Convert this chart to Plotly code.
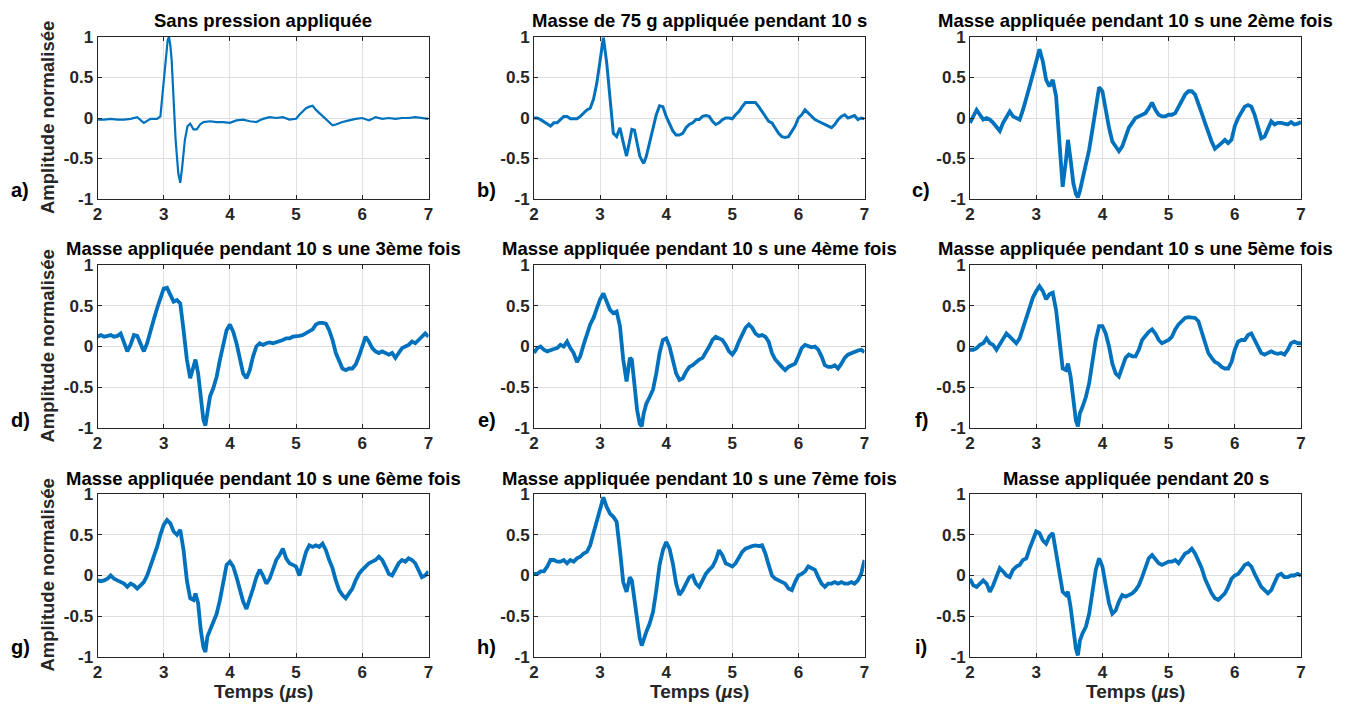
import plotly.graph_objects as go

# time grid (µs) shared by panels b-i, finer around the sharp dip
t = [2.00, 2.05, 2.10, 2.15, 2.20, 2.25, 2.30, 2.35, 2.40, 2.45,
     2.50, 2.55, 2.60, 2.65, 2.70, 2.75, 2.80, 2.85, 2.90, 2.95,
     3.00, 3.05, 3.10, 3.15, 3.20, 3.25, 3.30, 3.35, 3.40, 3.45,
     3.48, 3.52, 3.56, 3.60, 3.63, 3.66,
     3.70, 3.75, 3.80, 3.85, 3.90, 3.95, 4.00, 4.05, 4.10, 4.15,
     4.20, 4.25, 4.30, 4.35, 4.40, 4.45, 4.50, 4.55, 4.60, 4.65,
     4.70, 4.75, 4.80, 4.85, 4.90, 4.95, 5.00, 5.05, 5.10, 5.15,
     5.20, 5.25, 5.30, 5.35, 5.40, 5.45, 5.50, 5.55, 5.60, 5.65,
     5.70, 5.75, 5.80, 5.85, 5.90, 5.95, 6.00, 6.05, 6.10, 6.15,
     6.20, 6.25, 6.30, 6.35, 6.40, 6.45, 6.50, 6.55, 6.60, 6.65,
     6.70, 6.75, 6.80, 6.85, 6.90, 6.95, 7.00]

# panel a has its own grid (clean, sharp pulse)
t_a = [2.0, 2.1, 2.2, 2.3, 2.4, 2.5, 2.6, 2.7, 2.8, 2.9,
       2.95, 3.0, 3.03, 3.06, 3.08, 3.1, 3.12, 3.15, 3.18, 3.22,
       3.25, 3.28, 3.32, 3.36, 3.4, 3.45, 3.5, 3.55, 3.6, 3.7,
       3.8, 3.9, 4.0, 4.1, 4.2, 4.3, 4.4, 4.5, 4.6, 4.7,
       4.8, 4.9, 5.0, 5.05, 5.1, 5.15, 5.2, 5.25, 5.3, 5.4,
       5.5, 5.55, 5.6, 5.7, 5.8, 5.9, 6.0, 6.1, 6.2, 6.3,
       6.4, 6.5, 6.6, 6.7, 6.8, 6.9, 7.0]
sig_a = [-0.02, -0.02, -0.01, -0.02, -0.02, -0.01, 0.01, -0.06, -0.01, -0.01,
         0.02, 0.43, 0.75, 0.96, 1.0, 0.9, 0.72, 0.23, -0.27, -0.68,
         -0.80, -0.60, -0.27, -0.10, -0.07, -0.14, -0.14, -0.08, -0.05, -0.04,
         -0.05, -0.05, -0.06, -0.03, -0.02, -0.04, -0.05, -0.01, 0.01, 0.0,
         0.01, -0.02, -0.01, 0.04, 0.08, 0.12, 0.14, 0.15, 0.10, 0.02,
         -0.06, -0.09, -0.08, -0.05, -0.03, -0.01, 0.0, -0.03, 0.01, -0.01,
         0.0, -0.01, 0.0, 0.0, 0.01, 0.0, -0.01]

sig_b = [0.00, 0.00, -0.02, -0.05, -0.08, -0.10, -0.06, -0.06, -0.02, 0.02,
         0.02, -0.01, -0.01, -0.01, 0.02, 0.06, 0.10, 0.12, 0.23, 0.43,
         0.72, 0.99, 0.68, 0.19, -0.19, -0.23, -0.12, -0.30, -0.47, -0.27,
         -0.14, -0.15, -0.33, -0.47, -0.52, -0.56,
         -0.47, -0.31, -0.14, 0.04, 0.15, 0.14, 0.02, -0.08, -0.16, -0.21,
         -0.21, -0.19, -0.12, -0.08, -0.06, -0.02, -0.02, 0.02, 0.03, 0.02,
         -0.04, -0.08, -0.06, -0.02, 0.00, 0.00, -0.01, 0.04, 0.08, 0.14,
         0.19, 0.19, 0.19, 0.19, 0.14, 0.08, 0.02, -0.04, -0.06, -0.12,
         -0.19, -0.23, -0.24, -0.23, -0.16, -0.10, 0.00, 0.04, 0.10, 0.06,
         0.02, -0.02, -0.04, -0.06, -0.07, -0.10, -0.12, -0.08, -0.02, 0.02,
         0.04, 0.00, 0.02, 0.03, -0.02, 0.00, -0.01]

sig_c = [-0.06, 0.02, 0.10, 0.04, -0.02, 0.00, -0.02, -0.06, -0.12, -0.16,
         -0.06, 0.02, 0.08, 0.02, 0.00, -0.02, 0.10, 0.27, 0.39, 0.54,
         0.72, 0.85, 0.70, 0.47, 0.39, 0.47, 0.27, -0.27, -0.85, -0.52,
         -0.27, -0.52, -0.80, -0.94, -0.98, -0.90,
         -0.76, -0.60, -0.39, -0.14, 0.14, 0.38, 0.33, 0.10, -0.12, -0.29,
         -0.35, -0.41, -0.35, -0.23, -0.12, -0.06, 0.00, 0.02, 0.04, 0.06,
         0.12, 0.19, 0.10, 0.04, 0.02, 0.02, 0.04, 0.04, 0.06, 0.14,
         0.23, 0.29, 0.33, 0.33, 0.29, 0.19, 0.06, -0.06, -0.19, -0.29,
         -0.38, -0.35, -0.31, -0.27, -0.31, -0.27, -0.10, 0.00, 0.08, 0.14,
         0.16, 0.14, 0.04, -0.10, -0.25, -0.23, -0.12, -0.04, -0.08, -0.06,
         -0.06, -0.07, -0.08, -0.05, -0.08, -0.07, -0.05]

sig_d = [0.12, 0.14, 0.12, 0.13, 0.14, 0.12, 0.13, 0.16, 0.04, -0.06,
         0.02, 0.14, 0.13, 0.04, -0.06, 0.04, 0.20, 0.33, 0.47, 0.61,
         0.71, 0.72, 0.63, 0.55, 0.57, 0.53, 0.20, -0.16, -0.39, -0.24,
         -0.16, -0.33, -0.61, -0.90, -0.97, -0.78,
         -0.61, -0.51, -0.37, -0.16, 0.04, 0.20, 0.27, 0.18, 0.04, -0.16,
         -0.33, -0.39, -0.29, -0.12, 0.00, 0.04, 0.02, 0.04, 0.05, 0.04,
         0.05, 0.06, 0.08, 0.10, 0.10, 0.12, 0.12, 0.13, 0.14, 0.16,
         0.18, 0.21, 0.27, 0.29, 0.29, 0.28, 0.20, 0.08, -0.08, -0.18,
         -0.27, -0.29, -0.27, -0.27, -0.22, -0.12, 0.02, 0.12, 0.06, -0.02,
         -0.06, -0.08, -0.06, -0.08, -0.10, -0.08, -0.14, -0.08, -0.02, 0.00,
         0.02, 0.06, 0.04, 0.08, 0.12, 0.16, 0.12]

sig_e = [-0.08, -0.02, 0.00, -0.04, -0.06, -0.04, -0.03, -0.02, 0.02, 0.00,
         0.06, -0.02, -0.08, -0.19, -0.12, 0.02, 0.16, 0.27, 0.35, 0.47,
         0.58, 0.65, 0.56, 0.45, 0.41, 0.43, 0.25, -0.16, -0.43, -0.14,
         -0.16, -0.45, -0.78, -0.95, -0.98, -0.82,
         -0.70, -0.62, -0.53, -0.33, -0.08, 0.08, 0.10, 0.00, -0.19, -0.33,
         -0.41, -0.39, -0.31, -0.25, -0.23, -0.19, -0.16, -0.14, -0.08, 0.00,
         0.08, 0.12, 0.10, 0.08, 0.02, -0.06, -0.10, -0.04, 0.06, 0.16,
         0.23, 0.27, 0.23, 0.16, 0.13, 0.14, 0.12, 0.06, -0.08, -0.16,
         -0.21, -0.25, -0.29, -0.25, -0.23, -0.21, -0.12, -0.02, 0.02, 0.00,
         -0.01, 0.00, -0.04, -0.12, -0.23, -0.25, -0.25, -0.23, -0.27, -0.21,
         -0.14, -0.10, -0.08, -0.07, -0.05, -0.04, -0.07]

sig_f = [-0.04, -0.04, -0.02, 0.02, 0.04, 0.10, 0.04, 0.02, -0.04, 0.02,
         0.08, 0.16, 0.12, 0.08, 0.04, 0.10, 0.23, 0.35, 0.47, 0.60,
         0.68, 0.74, 0.68, 0.58, 0.64, 0.66, 0.45, 0.04, -0.27, -0.29,
         -0.21, -0.37, -0.66, -0.91, -0.98, -0.82,
         -0.74, -0.62, -0.45, -0.21, 0.08, 0.25, 0.25, 0.16, 0.00, -0.21,
         -0.33, -0.37, -0.25, -0.14, -0.10, -0.12, -0.12, -0.04, 0.08, 0.14,
         0.18, 0.21, 0.16, 0.08, 0.04, 0.06, 0.08, 0.12, 0.21, 0.27,
         0.31, 0.35, 0.36, 0.35, 0.35, 0.31, 0.18, 0.02, -0.08, -0.14,
         -0.19, -0.21, -0.25, -0.27, -0.27, -0.19, -0.04, 0.06, 0.08, 0.08,
         0.14, 0.16, 0.08, -0.02, -0.08, -0.10, -0.08, -0.06, -0.08, -0.09,
         -0.08, -0.10, -0.04, 0.04, 0.06, 0.04, 0.04]

sig_g = [-0.06, -0.07, -0.06, -0.04, 0.00, -0.04, -0.06, -0.08, -0.10, -0.14,
         -0.10, -0.12, -0.16, -0.12, -0.08, 0.00, 0.11, 0.21, 0.35, 0.50,
         0.62, 0.68, 0.64, 0.54, 0.50, 0.56, 0.31, -0.06, -0.28, -0.30,
         -0.22, -0.34, -0.67, -0.88, -0.94, -0.75,
         -0.67, -0.59, -0.47, -0.30, -0.08, 0.13, 0.17, 0.11, -0.02, -0.18,
         -0.32, -0.41, -0.30, -0.16, -0.02, 0.07, 0.00, -0.10, -0.04, 0.07,
         0.19, 0.25, 0.33, 0.21, 0.15, 0.13, 0.11, 0.00, 0.15, 0.29,
         0.37, 0.35, 0.37, 0.35, 0.39, 0.31, 0.19, 0.09, -0.06, -0.18,
         -0.24, -0.28, -0.22, -0.16, -0.06, 0.02, 0.07, 0.11, 0.15, 0.17,
         0.19, 0.23, 0.19, 0.11, 0.02, 0.00, 0.07, 0.15, 0.19, 0.17,
         0.21, 0.19, 0.15, 0.05, -0.02, 0.00, 0.05]

sig_h = [0.02, 0.02, 0.05, 0.05, 0.11, 0.19, 0.19, 0.17, 0.17, 0.19,
         0.15, 0.19, 0.17, 0.21, 0.23, 0.27, 0.29, 0.37, 0.52, 0.68,
         0.82, 0.96, 0.84, 0.76, 0.72, 0.66, 0.31, -0.08, -0.20, -0.02,
         -0.06, -0.30, -0.59, -0.77, -0.86, -0.80,
         -0.69, -0.59, -0.45, -0.18, 0.13, 0.31, 0.41, 0.33, 0.15, -0.10,
         -0.24, -0.18, -0.10, -0.02, 0.00, -0.10, -0.14, -0.06, 0.02, 0.07,
         0.11, 0.19, 0.31, 0.25, 0.15, 0.13, 0.11, 0.15, 0.23, 0.29,
         0.33, 0.35, 0.36, 0.37, 0.36, 0.37, 0.27, 0.13, 0.00, -0.04,
         -0.06, -0.08, -0.10, -0.16, -0.18, -0.08, 0.00, 0.02, 0.05, 0.11,
         0.09, 0.07, -0.02, -0.10, -0.14, -0.10, -0.10, -0.08, -0.10, -0.08,
         -0.10, -0.10, -0.08, -0.10, -0.06, 0.02, 0.19]

sig_i = [-0.04, -0.12, -0.14, -0.10, -0.06, -0.10, -0.20, -0.12, 0.00, 0.09,
         0.05, 0.00, -0.02, 0.07, 0.11, 0.13, 0.19, 0.21, 0.33, 0.43,
         0.54, 0.52, 0.43, 0.39, 0.48, 0.52, 0.27, 0.00, -0.20, -0.24,
         -0.20, -0.39, -0.67, -0.90, -0.98, -0.80,
         -0.71, -0.63, -0.47, -0.22, 0.07, 0.21, 0.11, -0.12, -0.34, -0.47,
         -0.43, -0.32, -0.24, -0.26, -0.24, -0.22, -0.18, -0.12, -0.02, 0.09,
         0.21, 0.25, 0.19, 0.15, 0.13, 0.15, 0.17, 0.17, 0.19, 0.15,
         0.21, 0.27, 0.29, 0.33, 0.27, 0.19, 0.09, -0.04, -0.14, -0.22,
         -0.28, -0.30, -0.26, -0.22, -0.14, -0.04, 0.00, 0.02, 0.07, 0.13,
         0.15, 0.11, 0.02, -0.06, -0.14, -0.18, -0.22, -0.18, -0.10, 0.00,
         0.02, -0.02, -0.02, 0.00, 0.00, 0.02, 0.00]

titles = ["Sans pression appliquée",
          "Masse de 75 g appliquée pendant 10 s",
          "Masse appliquée pendant 10 s une 2ème fois",
          "Masse appliquée pendant 10 s une 3ème fois",
          "Masse appliquée pendant 10 s une 4ème fois",
          "Masse appliquée pendant 10 s une 5ème fois",
          "Masse appliquée pendant 10 s une 6ème fois",
          "Masse appliquée pendant 10 s une 7ème fois",
          "Masse appliquée pendant 20 s"]
letters = ["a)", "b)", "c)", "d)", "e)", "f)", "g)", "h)", "i)"]

series = [(t_a, sig_a), (t, sig_b), (t, sig_c), (t, sig_d), (t, sig_e),
          (t, sig_f), (t, sig_g), (t, sig_h), (t, sig_i)]
for xs, ys in series:
    assert len(xs) == len(ys), (len(xs), len(ys))

# the page body keeps its 8px default margin, so the figure is a bit smaller
OFF = 8
W, H = 1351 - 2 * OFF, 711 - 2 * OFF
BLUE = "#0072BD"
DARK = "#262626"
FONT = "Liberation Sans"

# plot boxes in window pixels
col_px = [(97.5, 428.5), (534, 864.5), (970, 1301)]
row_px = [(37, 199), (265, 428), (494, 657)]
letter_x = [20, 487, 921]
letter_y = [190, 420, 647]


def px(x):
    return (x - OFF) / W


def py(y):
    return 1 - (y - OFF) / H


fig = go.Figure()
annotations = []

for k, (xs, ys) in enumerate(series):
    r, c = divmod(k, 3)
    n = "" if k == 0 else str(k + 1)
    fig.add_trace(go.Scatter(x=xs, y=ys, mode="lines",
                             line=dict(color=BLUE, width=2.2 if k == 0 else (3 if k == 1 else 3.8)),
                             xaxis="x" + n, yaxis="y" + n, showlegend=False))
    x0, x1 = col_px[c]
    y0, y1 = row_px[r]
    axis_common = dict(showline=True, linecolor=DARK, linewidth=1, mirror="ticks",
                       ticks="inside", ticklen=4, tickcolor=DARK, automargin=False,
                       showgrid=True, gridcolor="#dfdfdf", gridwidth=1,
                       zeroline=False,
                       tickfont=dict(family=FONT, size=17, color=DARK, weight="bold"))
    fig.update_layout(**{
        "xaxis" + n: dict(domain=[px(x0), px(x1)], anchor="y" + n, range=[2, 7],
                          tickvals=[2, 3, 4, 5, 6, 7], **axis_common),
        "yaxis" + n: dict(domain=[py(y1), py(y0)], anchor="x" + n, range=[-1, 1],
                          tickvals=[-1, -0.5, 0, 0.5, 1],
                          ticktext=["-1", "-0.5", "0", "0.5", "1"], **axis_common),
    })
    annotations.append(dict(text=titles[k], x=px((x0 + x1) / 2), y=py(y0 - 16),
                            xref="paper", yref="paper", showarrow=False,
                            xanchor="center", yanchor="middle",
                            font=dict(family=FONT, size=18.5, color="black", weight="bold")))
    annotations.append(dict(text=letters[k], x=px(letter_x[c]), y=py(letter_y[r]),
                            xref="paper", yref="paper", showarrow=False,
                            xanchor="center", yanchor="middle",
                            font=dict(family=FONT, size=20, color="black", weight="bold")))
    if c == 0:
        annotations.append(dict(text="Amplitude normalisée", textangle=-90,
                                x=px(47), y=py((y0 + y1) / 2),
                                xref="paper", yref="paper", showarrow=False,
                                xanchor="center", yanchor="middle",
                                font=dict(family=FONT, size=18.5, color=DARK, weight="bold")))
    if r == 2:
        annotations.append(dict(text="Temps (<i>µ</i>s)", x=px((x0 + x1) / 2), y=py(691),
                                xref="paper", yref="paper", showarrow=False,
                                xanchor="center", yanchor="middle",
                                font=dict(family=FONT, size=19, color=DARK, weight="bold")))

fig.update_layout(width=W, height=H, autosize=False,
                  margin=dict(l=0, r=0, t=0, b=0, pad=0, autoexpand=False),
                  paper_bgcolor="white", plot_bgcolor="white",
                  annotations=annotations)

fig.write_html("out.html")
